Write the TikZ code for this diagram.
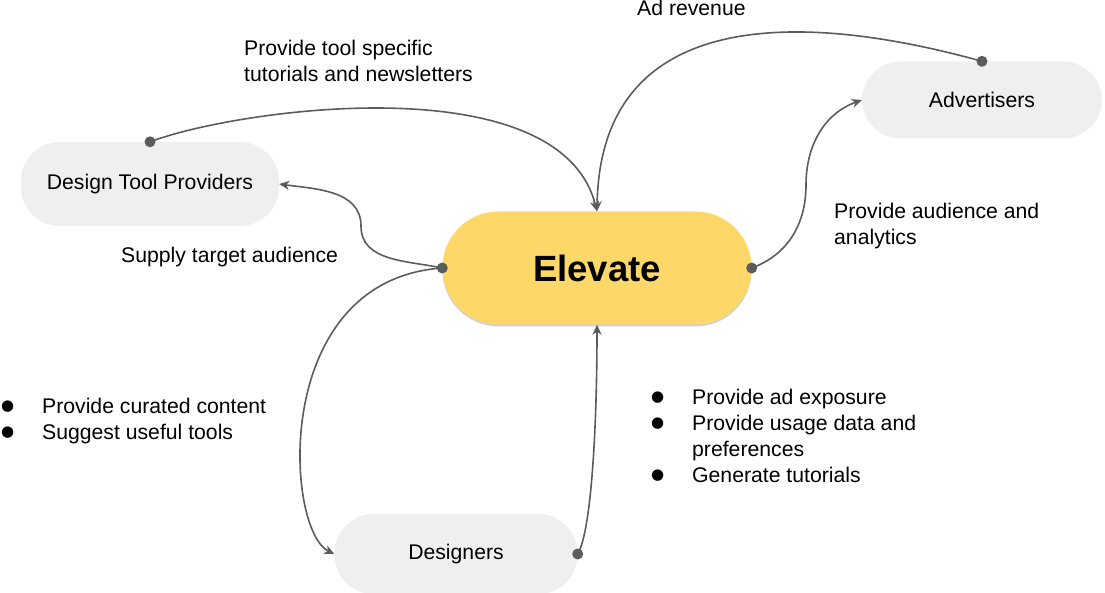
\documentclass[tikz,border=0pt]{standalone}
\usepackage{fontspec}
\setmainfont{Liberation Sans}
\newfontfamily\dotfont{DejaVu Sans}
\usetikzlibrary{positioning,arrows.meta,shadows}

\definecolor{pillgray}{HTML}{EFEFEF}
\definecolor{elevyellow}{HTML}{FDD868}
\definecolor{linegray}{HTML}{5C5C5C}

% round dot for the lists
\newcommand\listdot{\makebox[42pt][l]{\hspace{1pt}\raisebox{3pt}{\dotfont\fontsize{15}{26}\selectfont ●}}}

\begin{document}
\begin{tikzpicture}[
		x=1pt, y=-1pt,
		% grey pill
		pillnode/.style={rectangle, fill=pillgray, rounded corners=39pt, inner sep=0pt, font=\fontsize{21.2}{26}\selectfont},
		% the yellow one in the middle
		centernode/.style={rectangle, fill=elevyellow, rounded corners=56pt, inner sep=0pt, minimum width=309pt, minimum height=113pt, font=\fontsize{36.5}{40}\selectfont\bfseries, drop shadow={shadow xshift=0pt, shadow yshift=-2pt, opacity=0.18, fill=black}},
		% free text, placed at the baseline of its last line
		labeltext/.style={anchor=base west, inner sep=0pt, align=left, font=\fontsize{21.2}{26}\selectfont},
		link/.style={draw=linegray, line width=1.6pt, -{Stealth[length=10pt, width=9pt, inset=3pt]}},
		dot/.style={fill=linegray},
		point/.style={coordinate}
	]
	\useasboundingbox (0,0) rectangle (1105,593);

	%Nodes
	\node[centernode]                                          (elevate)   at (597,268)   {Elevate};
	\node[pillnode, minimum width=258pt, minimum height=84pt]  (tools)     at (150,184)   {Design Tool Providers};
	\node[pillnode, minimum width=240pt, minimum height=77pt]  (ads)       at (982,100)   {Advertisers};
	\node[pillnode, minimum width=243pt, minimum height=80pt]  (designers) at (456,554)   {Designers};

	%Texts
	\node[labeltext] (tuttext)  at (244,82)  {Provide tool specific\\tutorials and newsletters};
	\node[labeltext] (revtext)  at (637,16)  {Ad revenue};
	\node[labeltext] (suptext)  at (121,263) {Supply target audience};
	\node[labeltext] (audtext)  at (834,245) {Provide audience and\\analytics};
	\node[labeltext] (curlist)  at (0,439)   {\listdot Provide curated content\\\listdot Suggest useful tools};
	\node[labeltext] (uselist)  at (650,482) {\listdot Provide ad exposure\\\listdot Provide usage data and\\\hspace*{42pt}preferences\\\listdot Generate tutorials};

	% points where the S-shaped lines turn
	\node[point] (bendleft)  at (361,226) {};
	\node[point] (bendright) at (806,185) {};

	%Lines
	\draw[link] (tools.north)     .. controls (240,108) and (560,65)  .. (elevate.north);
	\draw[link] (ads.north)       .. controls (790,8)   and (600,12)  .. (elevate.north);
	\draw[link] (elevate.west)    to[out=168, in=-90] (bendleft) to[out=90, in=-8] (tools.east);
	\draw[link] (elevate.west)    .. controls (270,280) and (285,530) .. (designers.west);
	\draw[link] (designers.east)  .. controls (592,530) and (597,420) .. (elevate.south);
	\draw[link] (elevate.east)    to[out=20, in=-90] (bendright) to[out=90, in=200] (ads.west);
	% dots where the lines start
	\foreach \p in {tools.north, ads.north, elevate.west, elevate.east, designers.east}
		\fill[dot] (\p) circle (5.5pt);
\end{tikzpicture}
\end{document}
